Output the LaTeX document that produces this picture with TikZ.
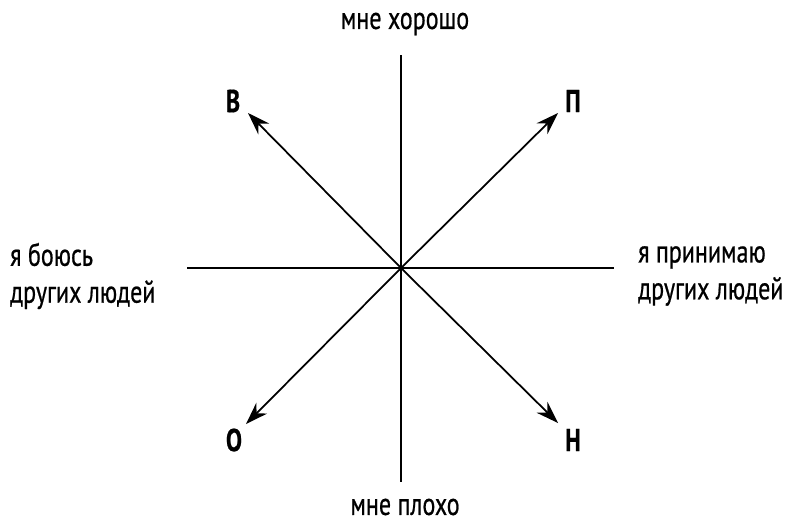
\documentclass[tikz,border=0pt]{standalone}
\usepackage{fontspec}
\setmainfont[FakeStretch=0.76,FakeBold=0.6]{PT Sans}
\usetikzlibrary{arrows.meta}

\begin{document}
\begin{tikzpicture}[
    x=0.03cm, y=-0.03cm,
    >={Stealth[length=19pt,width=13pt]},
    axis/.style={line width=1.5pt},
    ray/.style={line width=1.5pt,->},
    caption/.style={font=\fontsize{27}{31.5}\selectfont, align=left},
    corner/.style={font=\fontsize{27}{30}\selectfont\bfseries}
]

% ============================================================
% Rahmen (Seitenformat des Bildes)
% ============================================================
\useasboundingbox (0,0) rectangle (793,525);

% ============================================================
% Achsen
% ============================================================
\coordinate (Center) at (401,268);
\coordinate (Top) at (401,55);
\coordinate (Bottom) at (401,482);
\coordinate (Left) at (187,268);
\coordinate (Right) at (614,268);

\draw[axis] (Top) -- (Bottom);
\draw[axis] (Left) -- (Right);

% ============================================================
% Pfeile
% ============================================================
\coordinate (TipV) at (248,113);
\coordinate (TipP) at (558,113);
\coordinate (TipO) at (246,424);
\coordinate (TipN) at (558,423);

\draw[ray] (Center) -- (TipV);
\draw[ray] (Center) -- (TipP);
\draw[ray] (Center) -- (TipO);
\draw[ray] (Center) -- (TipN);

% ============================================================
% Beschriftungen
% ============================================================
\node[caption] (good) at (405,24) {мне хорошо};
\node[caption] (bad) at (405,507) {мне плохо};
\node[caption, anchor=west] (fear) at (6,276) {я боюсь\\других людей};
\node[caption, anchor=west] (accept) at (634,276) {я принимаю\\других людей};

\node[corner] (V) at (233,101) {В};
\node[corner] (P) at (573,101) {П};
\node[corner] (O) at (234,440) {О};
\node[corner] (N) at (573,440) {Н};

\end{tikzpicture}
\end{document}
